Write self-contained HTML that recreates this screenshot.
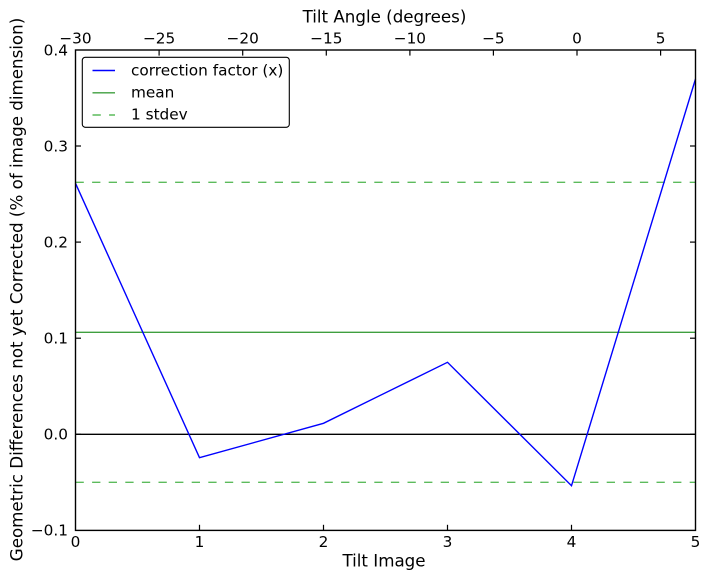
<!DOCTYPE html>
<html>
<head>
<meta charset="utf-8">
<style>
html,body{margin:0;padding:0;background:#fff;}
svg{display:block;}
text{font-family:"DejaVu Sans","Liberation Sans",sans-serif;fill:#000;}
</style>
</head>
<body>
<svg width="708" height="579" viewBox="0 0 708 579" xmlns="http://www.w3.org/2000/svg">
<rect x="0" y="0" width="708" height="579" fill="#fff"/>

<!-- horizontal reference lines -->
<line x1="75.5" y1="332.3" x2="695.5" y2="332.3" stroke="#3f9f3f" stroke-width="1.4"/>
<line x1="75.5" y1="182.3" x2="695.5" y2="182.3" stroke="#5cbb5c" stroke-width="1.4" stroke-dasharray="8.3 8.3"/>
<line x1="75.5" y1="482.3" x2="695.5" y2="482.3" stroke="#5cbb5c" stroke-width="1.4" stroke-dasharray="8.3 8.3"/>
<line x1="75.5" y1="434.3" x2="695.5" y2="434.3" stroke="#000" stroke-width="1.4"/>

<!-- data series -->
<polyline points="75.5,183.3 199.5,457.7 323.5,423.3 447.5,362.3 571.5,485.7 695.5,79" fill="none" stroke="#0000ff" stroke-width="1.4" stroke-linejoin="miter"/>

<!-- frame -->
<rect x="75.5" y="50" width="620" height="480.4" fill="none" stroke="#000" stroke-width="1.4"/>

<!-- left & right y ticks -->
<g stroke="#000" stroke-width="1.2">
<line x1="75.5" y1="146.0" x2="81" y2="146.0"/>
<line x1="75.5" y1="242.1" x2="81" y2="242.1"/>
<line x1="75.5" y1="338.2" x2="81" y2="338.2"/>
<line x1="75.5" y1="434.3" x2="81" y2="434.3"/>
<line x1="690" y1="146.0" x2="695.5" y2="146.0"/>
<line x1="690" y1="242.1" x2="695.5" y2="242.1"/>
<line x1="690" y1="338.2" x2="695.5" y2="338.2"/>
<line x1="690" y1="434.3" x2="695.5" y2="434.3"/>
<!-- bottom ticks -->
<line x1="199.5" y1="530.4" x2="199.5" y2="524.8"/>
<line x1="323.5" y1="530.4" x2="323.5" y2="524.8"/>
<line x1="447.5" y1="530.4" x2="447.5" y2="524.8"/>
<line x1="571.5" y1="530.4" x2="571.5" y2="524.8"/>
<!-- top ticks -->
<line x1="159.1" y1="50" x2="159.1" y2="55.6"/>
<line x1="242.7" y1="50" x2="242.7" y2="55.6"/>
<line x1="326.3" y1="50" x2="326.3" y2="55.6"/>
<line x1="409.9" y1="50" x2="409.9" y2="55.6"/>
<line x1="493.4" y1="50" x2="493.4" y2="55.6"/>
<line x1="577" y1="50" x2="577" y2="55.6"/>
<line x1="660.6" y1="50" x2="660.6" y2="55.6"/>
</g>

<!-- y tick labels -->
<g font-size="15.3" text-anchor="end">
<text x="68" y="55.3">0.4</text>
<text x="68" y="151.3">0.3</text>
<text x="68" y="247.4">0.2</text>
<text x="68" y="343.5">0.1</text>
<text x="68" y="439.6">0.0</text>
<text x="68" y="535.7">−0.1</text>
</g>

<!-- bottom tick labels -->
<g font-size="15.3" text-anchor="middle">
<text x="75.5" y="547">0</text>
<text x="199.5" y="547">1</text>
<text x="323.5" y="547">2</text>
<text x="447.5" y="547">3</text>
<text x="571.5" y="547">4</text>
<text x="695.5" y="547">5</text>
</g>

<!-- top tick labels -->
<g font-size="15.3" text-anchor="middle">
<text x="75.5" y="43.3">−30</text>
<text x="159.1" y="43.3">−25</text>
<text x="242.7" y="43.3">−20</text>
<text x="326.3" y="43.3">−15</text>
<text x="409.9" y="43.3">−10</text>
<text x="493.4" y="43.3">−5</text>
<text x="577" y="43.3">0</text>
<text x="660.6" y="43.3">5</text>
</g>

<!-- axis labels -->
<text x="384.5" y="22.3" font-size="16.7" text-anchor="middle">Tilt Angle (degrees)</text>
<text x="384" y="566.7" font-size="16.7" text-anchor="middle">Tilt Image</text>
<text transform="translate(22.5,289.5) rotate(-90)" font-size="16.7" text-anchor="middle">Geometric Differences not yet Corrected (% of image dimension)</text>

<!-- legend -->
<rect x="82.3" y="57.3" width="207" height="70" rx="3" ry="3" fill="#fff" stroke="#000" stroke-width="1.1"/>
<line x1="92.5" y1="70.5" x2="115" y2="70.5" stroke="#0000ff" stroke-width="1.4"/>
<line x1="92.5" y1="92.8" x2="115" y2="92.8" stroke="#3f9f3f" stroke-width="1.4"/>
<line x1="92.5" y1="115" x2="115" y2="115" stroke="#5cbb5c" stroke-width="1.4" stroke-dasharray="8.3 8.3"/>
<g font-size="15.3">
<text x="131" y="75.5">correction factor (x)</text>
<text x="131" y="97.5">mean</text>
<text x="131" y="119.5">1 stdev</text>
</g>
</svg>
</body>
</html>
